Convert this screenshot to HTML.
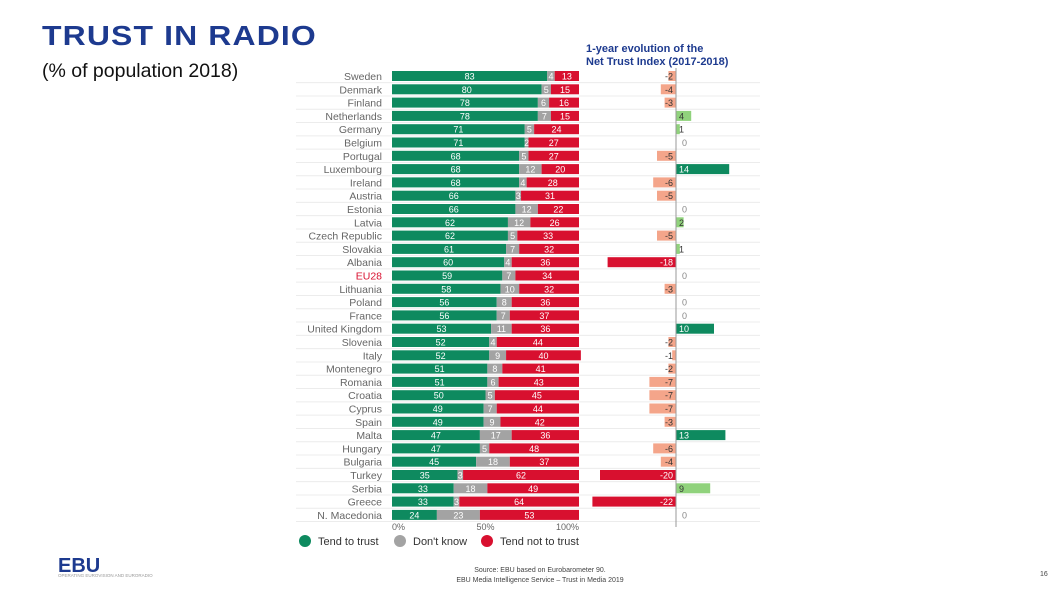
<!DOCTYPE html>
<html><head><meta charset="utf-8"><style>
body{margin:0;background:#fff;width:1058px;height:595px;overflow:hidden;font-family:"Liberation Sans",sans-serif;}
#t{position:absolute;left:42px;top:20px;font-size:28px;font-weight:bold;color:#1d3a8f;letter-spacing:1px;transform:scaleX(1.14);transform-origin:0 0;white-space:nowrap}
#s{position:absolute;left:42px;top:60px;font-size:19.5px;color:#111}
svg{position:absolute;left:0;top:0}
</style></head><body>
<div id="t">TRUST IN RADIO</div>
<div id="s">(% of population 2018)</div>
<svg id="c" width="1058" height="595">
<text x="586" y="52" font-size="11" font-weight="bold" fill="#1d3a8f">1-year evolution of the</text>
<text x="586" y="65" font-size="11" font-weight="bold" fill="#1d3a8f">Net Trust Index (2017-2018)</text>
<text x="58" y="572" font-size="20" font-weight="bold" fill="#1d3a8f">EBU</text>
<text x="58" y="577" font-size="4.5" fill="#999">OPERATING EUROVISION AND EURORADIO</text>
<text x="540" y="572" font-size="7" fill="#444" text-anchor="middle">Source: EBU based on Eurobarometer 90.</text>
<text x="540" y="582" font-size="7" fill="#444" text-anchor="middle">EBU Media Intelligence Service – Trust in Media 2019</text>
<text x="1040" y="576" font-size="7" fill="#444">16</text>
</svg>
<script>
const countries=["Sweden","Denmark","Finland","Netherlands","Germany","Belgium","Portugal","Luxembourg","Ireland","Austria","Estonia","Latvia","Czech Republic","Slovakia","Albania","EU28","Lithuania","Poland","France","United Kingdom","Slovenia","Italy","Montenegro","Romania","Croatia","Cyprus","Spain","Malta","Hungary","Bulgaria","Turkey","Serbia","Greece","N. Macedonia"];
const trust=[83,80,78,78,71,71,68,68,68,66,66,62,62,61,60,59,58,56,56,53,52,52,51,51,50,49,49,47,47,45,35,33,33,24];
const dontKnow=[4,5,6,7,5,2,5,12,4,3,12,12,5,7,4,7,10,8,7,11,4,9,8,6,5,7,9,17,5,18,3,18,3,23];
const notTrust=[13,15,16,15,24,27,27,20,28,31,22,26,33,32,36,34,32,36,37,36,44,40,41,43,45,44,42,36,48,37,62,49,64,53];
const netChange=[-2,-4,-3,4,1,0,-5,14,-6,-5,0,2,-5,1,-18,0,-3,0,0,10,-2,-1,-2,-7,-7,-7,-3,13,-6,-4,-20,9,-22,0];
const axisTicks=[0,50,100];
const svg=document.getElementById('c');const NS='http://www.w3.org/2000/svg';
function mk(t,a,txt){const e=document.createElementNS(NS,t);for(const k in a)e.setAttribute(k,a[k]);if(txt!==undefined)e.textContent=txt;svg.appendChild(e);return e;}
const x0=392,pw=187/100,y0=76,dy=13.3,bh=10,zx=676,nu=3.8;
const xS=v=>x0+v*pw, yS=i=>y0+i*dy, nS=v=>zx+v*nu;
countries.forEach((c,i)=>{
 const y=yS(i);
 let e=mk('line',{x1:296,x2:760,y1:y+dy/2,y2:y+dy/2,stroke:'#ececec','stroke-width':1});
 
 e=mk('text',{x:382,y:y+4,'font-size':10.5,'text-anchor':'end',fill:c==='EU28'?'#d8102f':'#666'},c);
 
 const segs=[[0,trust[i],'#0e8a5f'],[trust[i],dontKnow[i],'#a3a3a3'],[trust[i]+dontKnow[i],notTrust[i],'#d8102f']];
 segs.forEach((s,k)=>{
  e=mk('rect',{x:xS(s[0]),y:y-bh/2,width:s[1]*pw,height:bh,fill:s[2]});
  
  e=mk('text',{x:xS(s[0]+s[1]/2),y:y+3.5,'font-size':9,'text-anchor':'middle',fill:'#fff'},s[1]);
  
 });
 const v=netChange[i];
 let col=v<=-10?'#d8102f':v<0?'#f4a58a':v>=10?'#0e8a5f':'#90d27c';
 if(v!==0){
  e=mk('rect',{x:Math.min(nS(v),zx),y:y-bh/2,width:Math.abs(v)*nu,height:bh,fill:col});
  
 }
 const tc=(v<=-10||v>=10)?'#fff':'#333';
 const tx=v<0?zx-3:v>0?zx+3:zx+6;
 e=mk('text',{x:tx,y:y+3.5,'font-size':9,'text-anchor':v<0?'end':'start',fill:v===0?'#888':tc},v);
 
});
let e=mk('line',{x1:zx,x2:zx,y1:68,y2:527,stroke:'#999','stroke-width':1});

axisTicks.forEach(t=>{
 const el=mk('text',{x:xS(t),y:530,'font-size':9,'text-anchor':t===0?'start':t===100?'end':'middle',fill:'#666'},t+'%');
 
});
const legend=[['Tend to trust','#0e8a5f',305],["Don't know",'#a3a3a3',400],['Tend not to trust','#d8102f',487]];
legend.forEach(l=>{
 let el=mk('circle',{cx:l[2],cy:541,r:6,fill:l[1]});
 
 el=mk('text',{x:l[2]+13,y:545,'font-size':11,fill:'#333'},l[0]);
 
});
</script>
</body></html>
